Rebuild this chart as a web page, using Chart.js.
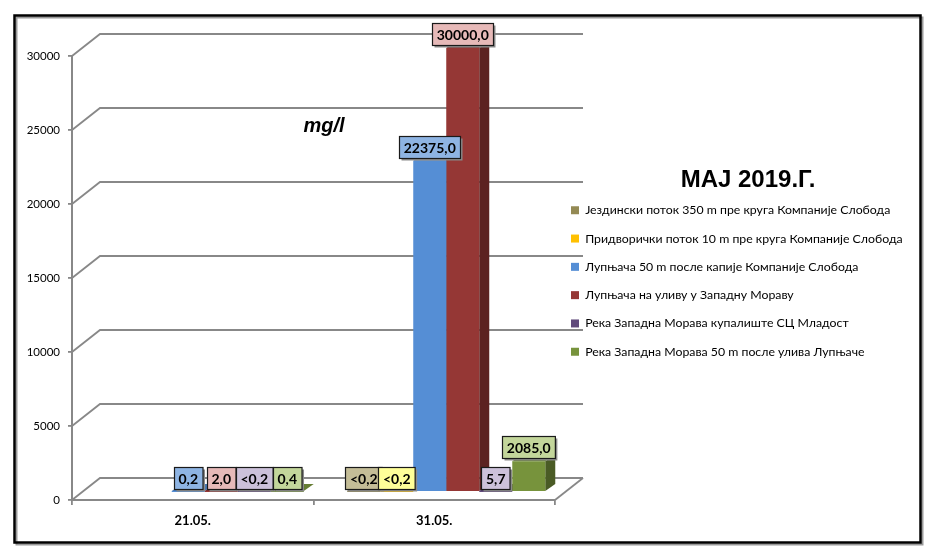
<!DOCTYPE html>
<html><head><meta charset="utf-8">
<script src="https://cdn.jsdelivr.net/npm/chart.js@4"></script>
<style>html,body{margin:0;padding:0;background:#fff;}#wrap{width:936px;height:558px;position:relative}</style>
</head><body><div id="wrap"><canvas id="c" width="936" height="558"></canvas></div>
<script>
// ---- data ----
const categories = ['21.05.', '31.05.'];
const seriesNames = [
  'Јездински поток 350 m пре круга Компаније Слобода',
  'Придворички поток 10 m пре круга Компаније Слобода',
  'Лупњача 50 m после капије Компаније Слобода',
  'Лупњача на уливу у Западну Мораву',
  'Река Западна Морава купалиште СЦ Младост',
  'Река Западна Морава 50 m после улива Лупњаче'
];
const jezdinskiValues = [null, 0.2];
const pridvorickiValues = [null, 0.2];
const lupnjaca50Values = [0.2, 22375];
const lupnjacaUlivValues = [2.0, 30000];
const moravaKupalisteValues = [0.2, 5.7];
const morava50Values = [0.4, 2085];
const jezdinskiText = [null, '<0,2'];
const pridvorickiText = [null, '<0,2'];
const lupnjaca50Text = ['0,2', '22375,0'];
const lupnjacaUlivText = ['2,0', '30000,0'];
const moravaKupalisteText = ['<0,2', '5,7'];
const morava50Text = ['0,4', '2085,0'];
const yTickValues = [0, 5000, 10000, 15000, 20000, 25000, 30000];
const yTickLabels = ['0', '5000', '10000', '15000', '20000', '25000', '30000'];
const chartTitle = 'МАЈ 2019.Г.';
const unitLabel = 'mg/l';

// ---- styles ----
const barColors = ['#948A54', '#FFC000', '#558ED5', '#953735', '#604A7B', '#77933C'];
const boxColors = ['#C4BD97', '#FFFF99', '#8EB4E3', '#E6B9B8', '#CCC1DA', '#C3D69B'];
const allValues = [jezdinskiValues, pridvorickiValues, lupnjaca50Values, lupnjacaUlivValues, moravaKupalisteValues, morava50Values];
const allTexts = [jezdinskiText, pridvorickiText, lupnjaca50Text, lupnjacaUlivText, moravaKupalisteText, morava50Text];

const OFF = {x: 12, y: -8};
const DEPTH = {x: 28, y: -22};
const BAR_D = {x: 10, y: -7};
const LEGEND_W = 361;
const LEGEND_SHIFT = 3;

function shade(hex, f) {
  const n = parseInt(hex.slice(1), 16);
  let r = (n >> 16) & 255, g = (n >> 8) & 255, b = n & 255;
  r = Math.round(r * f); g = Math.round(g * f); b = Math.round(b * f);
  return 'rgb(' + Math.min(255, r) + ',' + Math.min(255, g) + ',' + Math.min(255, b) + ')';
}

const threeD = {
  id: 'threeD',
  beforeLayout(chart) {
    const lg = chart.legend;
    if (lg && !lg._wide) {
      const orig = lg.fit.bind(lg);
      lg.fit = function () { orig(); this.width = LEGEND_W; };
      lg._wide = true;
    }
  },
  afterLayout(chart) {
    const lg = chart.legend;
    if (lg) { lg.top += LEGEND_SHIFT; lg.bottom += LEGEND_SHIFT; }
  },
  beforeDraw(chart) {
    const c = chart.ctx;
    c.save();
    c.fillStyle = '#fff'; c.fillRect(0, 0, chart.width, chart.height);
    c.strokeStyle = '#9a9a9a'; c.lineWidth = 2; c.strokeRect(16.5, 17.5, 906, 527);
    c.strokeStyle = '#000'; c.lineWidth = 2.5; c.strokeRect(14.5, 15.5, 906, 527);
    c.restore();
  },
  beforeDatasetsDraw(chart) {
    const c = chart.ctx, a = chart.chartArea, ys = chart.scales.y;
    c.save();
    c.strokeStyle = '#888888'; c.lineWidth = 1.8;
    ys.ticks.forEach(t => {
      const py = ys.getPixelForValue(t.value);
      c.beginPath();
      c.moveTo(a.left, py);
      c.lineTo(a.left + DEPTH.x, py + DEPTH.y);
      c.lineTo(a.right + DEPTH.x, py + DEPTH.y);
      c.stroke();
    });
    const b0 = ys.getPixelForValue(0);
    c.beginPath(); c.moveTo(a.right, b0); c.lineTo(a.right + DEPTH.x, b0 + DEPTH.y); c.stroke();
    c.restore();

    c.save();
    c.translate(OFF.x, OFF.y);
    chart.data.datasets.forEach((ds, i) => {
      const meta = chart.getDatasetMeta(i);
      const col = barColors[i];
      meta.data.forEach((el, j) => {
        if (ds.data[j] == null) return;
        const p = el.getProps(['x', 'y', 'base', 'width'], true);
        const l = p.x - p.width / 2, r = p.x + p.width / 2, top = Math.min(p.y, p.base), bot = p.base;
        c.fillStyle = shade(col, 0.62);
        c.beginPath();
        c.moveTo(r, top); c.lineTo(r + BAR_D.x, top + BAR_D.y);
        c.lineTo(r + BAR_D.x, bot + BAR_D.y); c.lineTo(r, bot); c.closePath(); c.fill();
        c.fillStyle = shade(col, 0.85);
        c.beginPath();
        c.moveTo(l, top); c.lineTo(l + BAR_D.x, top + BAR_D.y);
        c.lineTo(r + BAR_D.x, top + BAR_D.y); c.lineTo(r, top); c.closePath(); c.fill();
      });
    });
  },
  afterDatasetsDraw(chart) {
    const c = chart.ctx;
    c.restore();
    c.save();
    c.font = 'bold 14px Lato, "Noto Sans", sans-serif';
    c.textAlign = 'center'; c.textBaseline = 'middle';
    chart.data.datasets.forEach((ds, i) => {
      const meta = chart.getDatasetMeta(i);
      meta.data.forEach((el, j) => {
        const txt = allTexts[i][j];
        if (ds.data[j] == null || !txt) return;
        const p = el.getProps(['x', 'y'], true);
        const cx = p.x + OFF.x, top = p.y + OFF.y;
        const w = c.measureText(txt).width + 9, h = 22;
        const bx = Math.round(cx - w / 2) + 0.5, by = Math.round(top - 3 - h) + 0.5;
        c.fillStyle = '#8a8a8a'; c.fillRect(bx + 2, by + 2, w, h);
        c.fillStyle = boxColors[i]; c.fillRect(bx, by, w, h);
        c.strokeStyle = '#1a1a1a'; c.lineWidth = 1.2; c.strokeRect(bx, by, w, h);
        c.fillStyle = '#000'; c.fillText(txt, cx, by + h / 2 + 1);
      });
    });
    c.restore();
  },
  afterDraw(chart) {
    const c = chart.ctx;
    c.save();
    c.fillStyle = '#000'; c.textAlign = 'center'; c.textBaseline = 'middle';
    c.font = 'bold 24px "Liberation Sans", Arial, sans-serif';
    c.fillText(chartTitle, 748, 180);
    c.font = 'italic bold 20px "Liberation Sans", Arial, sans-serif';
    c.fillText(unitLabel, 324, 126);
    c.restore();
  }
};

Chart.defaults.font.family = 'Lato, "Noto Sans", sans-serif';
Chart.defaults.color = '#000';

new Chart(document.getElementById('c'), {
  type: 'bar',
  data: {
    labels: categories,
    datasets: seriesNames.map((name, i) => ({
      label: name,
      data: allValues[i],
      backgroundColor: barColors[i],
      borderWidth: 0,
      categoryPercentage: 0.82,
      barPercentage: 1,
      clip: false
    }))
  },
  options: {
    responsive: false,
    animation: false,
    layout: { padding: { left: 14, top: 56, right: 20, bottom: 16 } },
    scales: {
      x: {
        grid: { display: true, drawOnChartArea: false, drawTicks: true, tickLength: 5, color: '#888888', lineWidth: 1.8, offset: true },
        border: { display: true, color: '#888888', width: 2 },
        ticks: { color: '#000', font: { size: 13, weight: 'bold' }, padding: 8 },
        afterFit: s => { s.height = 42; }
      },
      y: {
        min: 0, max: 30000,
        afterBuildTicks: s => { s.ticks = yTickValues.map(v => ({ value: v })); },
        ticks: { color: '#000', font: { size: 11.5 }, padding: 8, callback: v => yTickLabels[yTickValues.indexOf(v)] },
        grid: { display: true, drawOnChartArea: false, drawTicks: true, tickLength: 4, color: '#888888', lineWidth: 1.8 },
        border: { display: true, color: '#888888', width: 2 },
        afterFit: s => { s.width = 58; }
      }
    },
    plugins: {
      legend: {
        position: 'right', fullSize: false, align: 'center',
        labels: { boxWidth: 8, boxHeight: 8, padding: 16, color: '#000', font: { size: 12.3 } }
      },
      tooltip: { enabled: false }
    }
  },
  plugins: [threeD]
});
</script></body></html>
